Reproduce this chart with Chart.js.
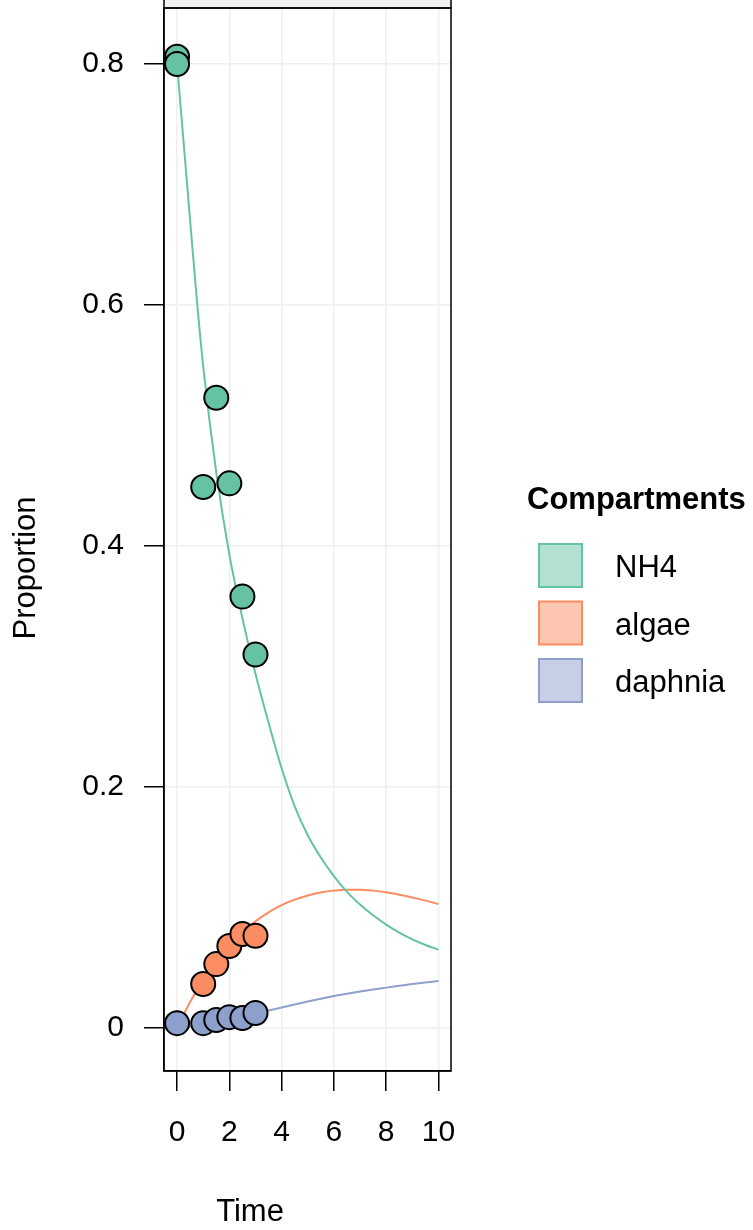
<!DOCTYPE html>
<html><head><meta charset="utf-8">
<script src="https://cdn.jsdelivr.net/npm/chart.js@4/dist/chart.umd.min.js"></script>
<style>html,body{margin:0;padding:0;background:#fff;} canvas{display:block;}</style>
</head><body>
<canvas id="c" width="753" height="1230"></canvas>
<script>
const seriesNames = ['NH4', 'algae', 'daphnia'];
const seriesColors = ['#66C2A5', '#FC8D62', '#8DA0CB'];
const legendFills = ['rgba(102,194,165,0.5)', 'rgba(252,141,98,0.5)', 'rgba(141,160,203,0.5)'];

// model curves
const modelTime    = [0, 0.25, 0.5, 0.75, 1, 1.5, 2, 2.5, 3, 3.5, 4, 4.5, 5, 5.5, 6, 6.5, 7, 7.5, 8, 8.5, 9, 9.5, 10];
const modelNH4     = [0.800, 0.735, 0.670, 0.606, 0.549, 0.461, 0.393, 0.340, 0.294, 0.2535, 0.2155, 0.184, 0.160, 0.1415, 0.1260, 0.1130, 0.1025, 0.0935, 0.0858, 0.0792, 0.0736, 0.0689, 0.0650];
const modelAlgae   = [0, 0.011, 0.0215, 0.031, 0.039, 0.053, 0.0665, 0.0785, 0.0885, 0.0960, 0.1020, 0.1065, 0.1100, 0.1125, 0.1140, 0.1148, 0.1148, 0.1140, 0.1126, 0.1106, 0.1083, 0.1057, 0.1029];
const modelDaphnia = [0, 0.0005, 0.001, 0.002, 0.003, 0.005, 0.007, 0.009, 0.0115, 0.0145, 0.017, 0.0195, 0.022, 0.0243, 0.0265, 0.0285, 0.0303, 0.032, 0.0335, 0.035, 0.0365, 0.0378, 0.039];

// observations
const obsTimeNH4 = [0, 0, 1, 1.5, 2, 2.5, 3];
const obsNH4     = [0.806, 0.800, 0.449, 0.523, 0.452, 0.358, 0.310];
const obsTimeAlgae = [1, 1.5, 2, 2.5, 3];
const obsAlgae     = [0.0365, 0.053, 0.068, 0.078, 0.0765];
const obsTimeDaphnia = [0, 1, 1.5, 2, 2.5, 3];
const obsDaphnia     = [0.004, 0.004, 0.0066, 0.009, 0.0083, 0.0124];

const xTicks = [0, 2, 4, 6, 8, 10];
const xTickLabels = ['0', '2', '4', '6', '8', '10'];
const yTicks = [0, 0.2, 0.4, 0.6, 0.8];
const yTickLabels = ['0', '0.2', '0.4', '0.6', '0.8'];

const xTitle = 'Time';
const yTitle = 'Proportion';
const legendTitle = 'Compartments';

const FONT = "'Liberation Sans', Arial, Helvetica, sans-serif";

const pts = (xs, ys) => xs.map((x, i) => ({ x: x, y: ys[i] }));
const models = [modelNH4, modelAlgae, modelDaphnia];
const obsX = [obsTimeNH4, obsTimeAlgae, obsTimeDaphnia];
const obsY = [obsNH4, obsAlgae, obsDaphnia];

const datasets = [];
for (let i = 0; i < 3; i++) {
  datasets.push({
    type: 'line', label: seriesNames[i] + ' model',
    data: pts(modelTime, models[i]),
    borderColor: seriesColors[i], borderWidth: 2,
    pointRadius: 0, fill: false, cubicInterpolationMode: 'monotone',
    order: 10
  });
}
for (let i = 0; i < 3; i++) {
  datasets.push({
    type: 'scatter', label: seriesNames[i],
    data: pts(obsX[i], obsY[i]),
    backgroundColor: seriesColors[i], borderColor: '#000', borderWidth: 2,
    pointRadius: 12, showLine: false,
    order: 3 - i
  });
}

const deco = {
  id: 'deco',
  afterDraw(chart) {
    const ctx = chart.ctx, a = chart.chartArea;
    ctx.save();
    // strip at top
    ctx.fillStyle = '#F0F0F0';
    ctx.fillRect(a.left, -5, a.right - a.left, a.top + 5);
    ctx.strokeStyle = '#000';
    ctx.lineWidth = 1.5;
    ctx.strokeRect(a.left, -5, a.right - a.left, a.top + 5);
    ctx.strokeRect(a.left, a.top, a.right - a.left, a.bottom - a.top);
    // axis titles
    ctx.fillStyle = '#000';
    ctx.font = '31px ' + FONT;
    ctx.textAlign = 'center';
    ctx.textBaseline = 'alphabetic';
    ctx.fillText(xTitle, 250, 1221);
    ctx.save();
    ctx.translate(35, 568);
    ctx.rotate(-Math.PI / 2);
    ctx.fillText(yTitle, 0, 0);
    ctx.restore();
    // legend
    ctx.textAlign = 'left';
    ctx.font = 'bold 31px ' + FONT;
    ctx.fillText(legendTitle, 527, 509);
    ctx.font = '31px ' + FONT;
    for (let i = 0; i < seriesNames.length; i++) {
      const top = 544 + i * 57.5;
      ctx.fillStyle = legendFills[i];
      ctx.fillRect(539, top, 43, 43);
      ctx.strokeStyle = seriesColors[i];
      ctx.lineWidth = 2;
      ctx.strokeRect(539, top, 43, 43);
      ctx.fillStyle = '#000';
      ctx.fillText(seriesNames[i], 615, top + 33);
    }
    ctx.restore();
  }
};

new Chart(document.getElementById('c'), {
  data: { datasets: datasets },
  plugins: [deco],
  options: {
    responsive: false,
    devicePixelRatio: 1,
    animation: false,
    layout: { autoPadding: false, padding: { left: 0, top: 8, right: 302, bottom: 0 } },
    plugins: { legend: { display: false }, tooltip: { enabled: false } },
    scales: {
      x: {
        type: 'linear', min: -0.5, max: 10.48,
        afterBuildTicks: s => { s.ticks = xTicks.map(v => ({ value: v })); },
        afterFit: s => { s.height = 159; s.paddingLeft = 0; s.paddingRight = 0; s.paddingTop = 0; s.paddingBottom = 0; },
        grid: { color: '#EFEFEF', lineWidth: 1.5, tickLength: 20, tickColor: '#000', tickWidth: 1.5 },
        border: { display: true, color: '#000', width: 1.5 },
        ticks: {
          color: '#000', font: { family: FONT, size: 30 }, padding: 24, maxRotation: 0,
          callback: (v) => { const k = xTicks.indexOf(v); return k >= 0 ? xTickLabels[k] : ''; }
        }
      },
      y: {
        type: 'linear', min: -0.0357, max: 0.8465,
        afterBuildTicks: s => { s.ticks = yTicks.map(v => ({ value: v })); },
        afterFit: s => { s.width = 164; s.paddingLeft = 0; s.paddingRight = 0; s.paddingTop = 0; s.paddingBottom = 0; },
        grid: { color: '#EFEFEF', lineWidth: 1.5, tickLength: 20, tickColor: '#000', tickWidth: 1.5 },
        border: { display: true, color: '#000', width: 1.5 },
        ticks: {
          color: '#000', font: { family: FONT, size: 30 }, padding: 20,
          callback: (v) => { const k = yTicks.indexOf(v); return k >= 0 ? yTickLabels[k] : ''; }
        }
      }
    }
  }
});
</script>
</body></html>
